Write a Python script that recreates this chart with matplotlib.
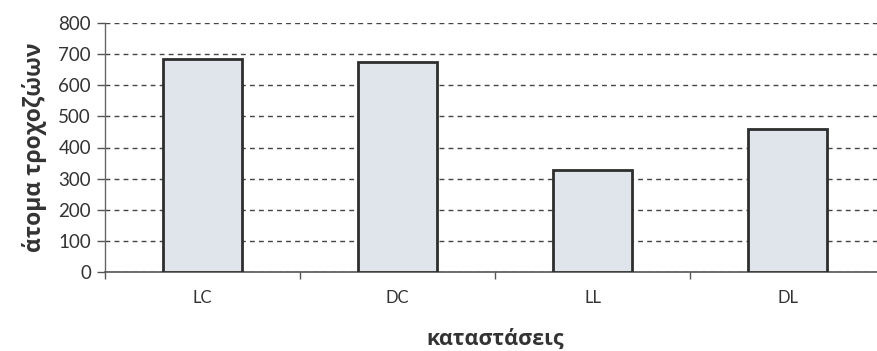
import matplotlib
matplotlib.use("Agg")
import matplotlib.pyplot as plt
import numpy as np

# Rotifer counts per condition
categories = ["LC", "DC", "LL", "DL"]
values = [683, 673, 327, 458]
y_ticks = [0, 100, 200, 300, 400, 500, 600, 700, 800]

W, H = 877, 351
fig = plt.figure(figsize=(W / 100, H / 100), dpi=100)
ax = fig.add_axes([105 / W, 1 - 272.3 / H, 780 / W, 249.6 / H])

x = np.arange(len(categories))
ax.bar(x, values, width=0.41, color="#e0e5eb", edgecolor="#2e2e2e",
       linewidth=2.0, zorder=3)

ax.set_xlim(-0.5, len(categories) - 0.5)
ax.set_ylim(0, 800)
ax.set_yticks(y_ticks)
ax.set_yticklabels([str(t) for t in y_ticks])

# category boundary ticks on the x axis, labels centred on bars
ax.set_xticks(np.arange(len(categories) + 1) - 0.5)
ax.set_xticklabels([])
ax.set_xticks(x, minor=True)
ax.set_xticklabels(categories, minor=True)
ax.tick_params(axis="x", which="minor", length=0, pad=13)
ax.tick_params(axis="x", which="major", length=5, width=1, color="#555555")
ax.tick_params(axis="y", length=6, width=1, color="#555555", pad=4)

for lbl in ax.get_yticklabels():
    lbl.set_family("Lato")
    lbl.set_fontsize(13.5)
    lbl.set_color("#333333")
for lbl in ax.get_xticklabels(minor=True):
    lbl.set_family("Lato")
    lbl.set_fontsize(12)
    lbl.set_color("#333333")

ax.yaxis.grid(True, linestyle=(0, (3.5, 3)), color="#444444", linewidth=1.0, zorder=0)
ax.set_axisbelow(True)

for side in ("top", "right"):
    ax.spines[side].set_visible(False)
ax.spines["left"].set_color("#666666")
ax.spines["bottom"].set_color("#555555")
ax.spines["left"].set_linewidth(1.0)
ax.spines["bottom"].set_linewidth(1.2)

ax.set_ylabel("άτομα τροχοζώων", family="Open Sans", fontweight="bold",
              fontsize=16.5, color="#333333", labelpad=8)
ax.set_xlabel("καταστάσεις", family="Open Sans", fontweight="bold",
              fontsize=15.5, color="#333333", labelpad=16)

fig.savefig("out.png", dpi=100)
